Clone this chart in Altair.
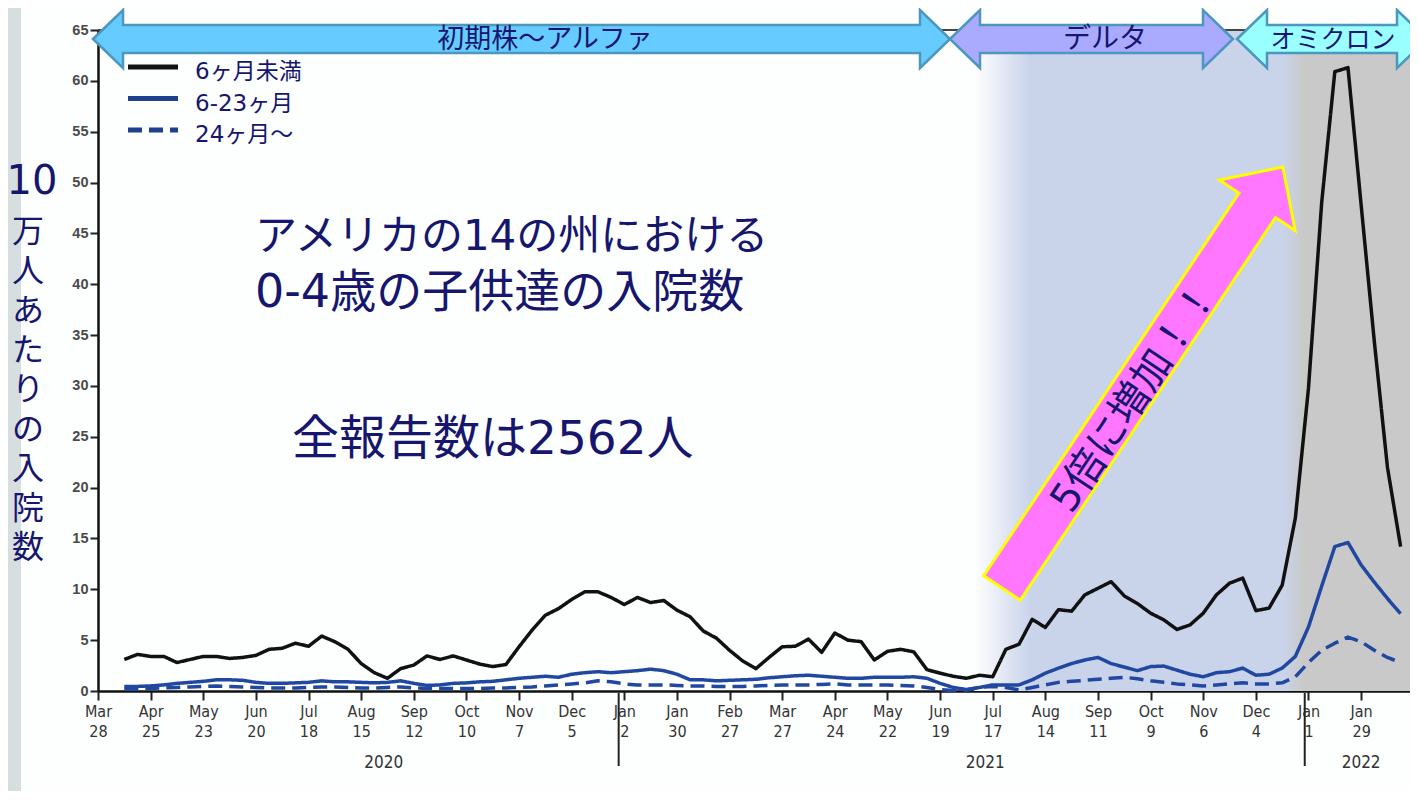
import altair as alt
import pandas as pd

# ---------------- data ----------------
WEEK_START = "2020-04-11"   # first weekly point (week-ending Saturday)

UNDER_6M = [3.1, 3.6, 3.4, 3.4, 2.8, 3.1, 3.4, 3.4, 3.2, 3.3,
            3.5, 4.1, 4.2, 4.7, 4.4, 5.4, 4.85, 4.1, 2.7, 1.8,
            1.25, 2.2, 2.55, 3.45, 3.1, 3.45, 3.05, 2.65, 2.4, 2.6,
            4.35, 6.0, 7.45, 8.1, 9.0, 9.75, 9.75, 9.2, 8.5, 9.2,
            8.7, 8.9, 7.95, 7.3, 5.9, 5.2, 4.0, 2.95, 2.2, 3.3,
            4.35, 4.4, 5.1, 3.8, 5.7, 5.0, 4.85, 3.05, 3.9, 4.1,
            3.85, 2.1, 1.75, 1.45, 1.25, 1.55, 1.4, 4.1, 4.6, 7.05,
            6.25, 8.0, 7.85, 9.45, 10.1, 10.75, 9.35, 8.6, 7.65, 7.0,
            6.05, 6.5, 7.65, 9.45, 10.6, 11.1, 7.9, 8.15, 10.4, 17.0,
            29.8, 48.0, 60.9, 61.3, 47.8, 34.4, 22.0, 14.2]

M6_23 = [0.45, 0.45, 0.5, 0.6, 0.75, 0.85, 0.95, 1.1, 1.1, 1.05,
         0.85, 0.75, 0.75, 0.8, 0.85, 1.0, 0.9, 0.9, 0.85, 0.8,
         0.85, 1.0, 0.75, 0.55, 0.6, 0.75, 0.8, 0.9, 0.95, 1.1,
         1.25, 1.35, 1.45, 1.35, 1.65, 1.8, 1.9, 1.8, 1.9, 2.0,
         2.15, 2.0, 1.65, 1.1, 1.1, 1.0, 1.05, 1.1, 1.15, 1.3,
         1.4, 1.5, 1.55, 1.45, 1.35, 1.25, 1.25, 1.35, 1.35, 1.35,
         1.4, 1.25, 0.75, 0.35, 0.15, 0.35, 0.6, 0.6, 0.6, 1.1,
         1.75, 2.25, 2.7, 3.05, 3.3, 2.7, 2.35, 2.0, 2.4, 2.45,
         2.05, 1.65, 1.4, 1.8, 1.9, 2.25, 1.55, 1.65, 2.25, 3.4,
         6.3, 10.3, 14.2, 14.6, 12.4, 10.7, 9.1, 7.6]

M24_PLUS = [0.2, 0.2, 0.25, 0.3, 0.35, 0.4, 0.45, 0.5, 0.45, 0.4,
            0.35, 0.3, 0.3, 0.3, 0.35, 0.4, 0.4, 0.35, 0.3, 0.3,
            0.35, 0.4, 0.3, 0.25, 0.25, 0.25, 0.25, 0.25, 0.3, 0.3,
            0.35, 0.4, 0.5, 0.6, 0.7, 0.8, 1.0, 0.9, 0.7, 0.6,
            0.6, 0.6, 0.55, 0.5, 0.5, 0.45, 0.45, 0.45, 0.5, 0.55,
            0.6, 0.6, 0.6, 0.65, 0.7, 0.6, 0.6, 0.6, 0.6, 0.55,
            0.5, 0.35, 0.15, 0.05, 0.1, 0.35, 0.45, 0.35, 0.1, 0.35,
            0.6, 0.85, 0.95, 1.05, 1.15, 1.25, 1.35, 1.2, 1.0, 0.85,
            0.7, 0.6, 0.5, 0.6, 0.7, 0.8, 0.7, 0.7, 0.8, 1.4,
            2.8, 4.0, 4.7, 5.3, 4.85, 4.0, 3.3, 2.8]

SERIES = ["6ヶ月未満", "6-23ヶ月", "24ヶ月〜"]
SERIES_VALUES = [UNDER_6M, M6_23, M24_PLUS]
SERIES_COLORS = ["#111111", "#2148a0", "#2148a0"]
SERIES_DASH = [[1, 0], [1, 0], [14, 7]]

X_DOMAIN = ["2020-03-28", "2022-02-24"]
X_TICK_START, X_TICK_END = "2020-03-28", "2022-01-29"
Y_TICKS = list(range(0, 70, 5))

YEAR_LABELS = ["2020", "2021", "2022"]
YEAR_LABEL_DATES = ["2020-08-27", "2021-07-13", "2022-01-29"]
YEAR_BREAKS = ["2020-12-30", "2021-12-30"]

SHADE_START = "2021-07-07"

ERA_LABELS = ["初期株〜アルファ", "デルタ", "オミクロン"]
ERA_FILLS = ["#66ccff", "#aaaaff", "#99ffff"]

TITLE_LINES = ["アメリカの14の州における", "0-4歳の子供達の入院数"]
TOTAL_TEXT = "全報告数は2562人"
BOOST_TEXT = "5倍に増加！！"
Y_TITLE_TOP = "10"
Y_TITLE_REST = ["万", "人", "あ", "た", "り", "の", "入", "院", "数"]

# ---------------- helpers ----------------
W, H = 1312, 661
NAVY = "#16166e"
JP = "Noto Sans CJK JP"
JPD = "DejaVu Sans, Noto Sans CJK JP"
NARROW = "Liberation Sans Narrow, DejaVu Sans Condensed, sans-serif"


def ms(s):
    return int(pd.Timestamp(s, tz="UTC").value // 10**6)


XSCALE = alt.Scale(type="utc", domain=[ms(X_DOMAIN[0]), ms(X_DOMAIN[1])])
YSCALE = alt.Scale(domain=[0, 65])

tick_vals = [int(d.value // 10**6) for d in
             pd.date_range(X_TICK_START, X_TICK_END, freq="28D", tz="UTC")]

XAXIS = alt.Axis(
    values=tick_vals, labelExpr="[utcFormat(datum.value, '%b'), utcFormat(datum.value, '%-d')]",
    labelFont=NARROW, labelFontSize=16, labelColor="#333333", labelLineHeight=20,
    labelPadding=3, tickSize=9, tickWidth=2, tickColor="#222222",
    domainColor="#111111", domainWidth=2.5, grid=False, labelOverlap=False,
    labelFlush=False, title=None)
YAXIS = alt.Axis(
    values=Y_TICKS, labelFont="Liberation Sans, Arial, sans-serif", labelFontSize=14.5,
    labelFontWeight="bold", labelColor="#4a4a4a", labelPadding=2, tickSize=8, tickWidth=2,
    tickColor="#222222", domainColor="#111111", domainWidth=2.5, grid=False, title=None)

weeks = pd.date_range(WEEK_START, periods=len(UNDER_6M), freq="7D", tz="UTC")
rows = []
for name, vals in zip(SERIES, SERIES_VALUES):
    for d, v in zip(weeks, vals):
        rows.append({"date": int(d.value // 10**6), "value": v, "series": name})
df = pd.DataFrame(rows)

one = pd.DataFrame({"k": [0]})


def X(field):
    return alt.X(field, type="temporal", scale=XSCALE, axis=XAXIS, title=None)


def Y(field):
    return alt.Y(field, type="quantitative", scale=YSCALE, axis=YAXIS, title=None)


def label(text, x, y, size, font=JP, align="center", angle=None, color=NAVY):
    kw = dict(text=text, font=font, fontSize=size, color=color, align=align, baseline="middle")
    if angle is not None:
        kw["angle"] = angle
    return alt.Chart(one).mark_text(**kw).encode(x=alt.value(x), y=alt.value(y))


layers = []

# left grey frame strip
layers.append(alt.Chart(one).mark_rect(color="#d7dee0").encode(
    x=alt.value(-90), x2=alt.value(-77), y=alt.value(-22), y2=alt.value(761)))

# shaded Delta / Omicron background
shade_df = pd.DataFrame({"s": [ms(SHADE_START)], "e": [ms(X_DOMAIN[1])], "y0": [0], "y1": [65]})
grad = alt.Gradient(gradient="linear", x1=0, y1=0, x2=1, y2=0, stops=[
    alt.GradientStop(offset=0, color="#ffffff"),
    alt.GradientStop(offset=0.13, color="#c9d3ea"),
    alt.GradientStop(offset=0.71, color="#c9d3ea"),
    alt.GradientStop(offset=0.755, color="#c9c9c9"),
    alt.GradientStop(offset=1, color="#c9c9c9")])
layers.append(alt.Chart(shade_df).mark_rect(color=grad).encode(
    x=X("s"), x2="e", y=Y("y0"), y2="y1"))

# top line at 65
top_df = pd.DataFrame({"s": [ms(X_DOMAIN[0])], "e": [ms(X_DOMAIN[1])], "y": [65]})
layers.append(alt.Chart(top_df).mark_rule(color="#444444", strokeWidth=2).encode(
    x=X("s"), x2="e", y=Y("y")))

# data lines (dashed first, black on top)
for idx in [2, 1, 0]:
    name = SERIES[idx]
    layers.append(alt.Chart(df).transform_filter(alt.datum.series == name).mark_line(
        color=SERIES_COLORS[idx], strokeDash=SERIES_DASH[idx], strokeWidth=3.5,
        strokeJoin="round").encode(x=X("date"), y=Y("value")))

# year labels and year breaks
yl_df = pd.DataFrame({"d": [ms(s) for s in YEAR_LABEL_DATES], "t": YEAR_LABELS})
layers.append(alt.Chart(yl_df).mark_text(font=NARROW, fontSize=17, color="#333333",
                                         baseline="middle").encode(
    x=X("d"), y=alt.value(733), text="t:N"))
yb_df = pd.DataFrame({"d": [ms(s) for s in YEAR_BREAKS]})
layers.append(alt.Chart(yb_df).mark_rule(color="#222222", strokeWidth=2).encode(
    x=X("d"), y=alt.value(663), y2=alt.value(736)))


def dbl_arrow(a, head, hh, sh):
    b = a - head
    return (f"M{-a},0L{-b},{-hh}L{-b},{-sh}L{b},{-sh}L{b},{-hh}L{a},0"
            f"L{b},{hh}L{b},{sh}L{-b},{sh}L{-b},{hh}Z")


def arrow(a, head, hh, sh):
    b = a - head
    return f"M{-a},{-sh}L{b},{-sh}L{b},{-hh}L{a},0L{b},{hh}L{b},{sh}L{-a},{sh}Z"


# era arrows on top
era_geo = [(423.5, 428.5), (993.5, 141.5), (1234.0, 95.0)]
era_text_x = [447, 1007, 1235]
era_font = [27, 28, 25]
for (cx, half), fill, lab, tx, fs in zip(era_geo, ERA_FILLS, ERA_LABELS, era_text_x, era_font):
    layers.append(alt.Chart(one).mark_point(
        shape=dbl_arrow(half, 30, 29, 14), size=4, filled=True, fill=fill, stroke="#4d97bf",
        strokeWidth=2.5, opacity=1, fillOpacity=1, strokeOpacity=1).encode(
        x=alt.value(cx), y=alt.value(9)))
    layers.append(label(lab, tx, 10, fs))

# big magenta arrow
layers.append(alt.Chart(one).mark_point(
    shape=arrow(253, 46, 45.5, 22), size=4, filled=True, fill="#ff77ff", stroke="#ffff00",
    strokeWidth=3, opacity=1, fillOpacity=1, strokeOpacity=1, angle=303.7).encode(
    x=alt.value(1044.4), y=alt.value(347.5)))
layers.append(label(BOOST_TEXT, 1037, 368, 40, font=JPD, angle=303.7))

# main annotation texts
for txt, ty, fs in zip(TITLE_LINES, [207, 263], [42, 46]):
    layers.append(label(txt, 157, ty, fs, font=JPD, align="left"))
layers.append(label(TOTAL_TEXT, 194, 410, 47, font=JPD, align="left"))

# manual legend
for k, name in enumerate(SERIES):
    ly = 37 + 31.5 * k
    layers.append(alt.Chart(one).mark_rule(
        color=SERIES_COLORS[k] if k == 0 else "#1f3f8f", strokeDash=SERIES_DASH[k],
        strokeWidth=5).encode(x=alt.value(30), x2=alt.value(80), y=alt.value(ly)))
    layers.append(label(name, 97, ly + 5, 23, font=JPD, align="left"))

# vertical y title (one glyph per row)
layers.append(label(Y_TITLE_TOP, -66, 152, 40, font=JPD))
for k, ch in enumerate(Y_TITLE_REST):
    layers.append(label(ch, -70, 202 + 39.5 * k, 32))

chart = alt.layer(*layers).properties(
    width=W, height=H,
    autosize=alt.AutoSizeParams(type="none"),
    padding={"left": 90, "top": 22, "right": 0, "bottom": 100},
    background="#fdfefe",
).configure_view(stroke=None)

chart.save("out.html", embed_options={"renderer": "svg", "actions": False})
